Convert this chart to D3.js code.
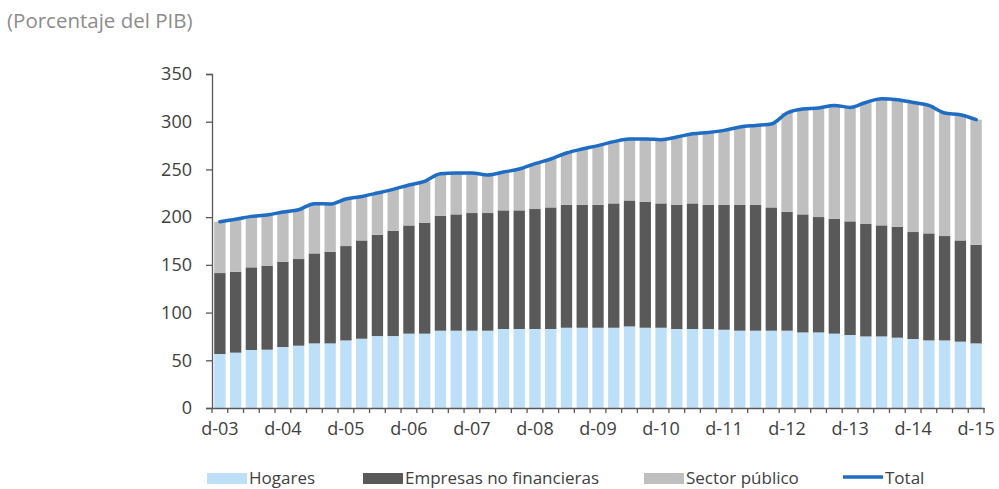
<!DOCTYPE html>
<html>
<head>
<meta charset="utf-8">
<script src="https://cdn.jsdelivr.net/npm/d3@7"></script>
<style>
  body { margin: 0; background: #fff; }
  svg text { font-family: "Open Sans", sans-serif; }
</style>
</head>
<body>
<div id="chart"></div>
<script>
// quarterly categories (d = dic, m = mar, j = jun, s = sep)
let quarters = ['d-03',
  'm-04', 'j-04', 's-04', 'd-04', 'm-05', 'j-05', 's-05', 'd-05',
  'm-06', 'j-06', 's-06', 'd-06', 'm-07', 'j-07', 's-07', 'd-07',
  'm-08', 'j-08', 's-08', 'd-08', 'm-09', 'j-09', 's-09', 'd-09',
  'm-10', 'j-10', 's-10', 'd-10', 'm-11', 'j-11', 's-11', 'd-11',
  'm-12', 'j-12', 's-12', 'd-12', 'm-13', 'j-13', 's-13', 'd-13',
  'm-14', 'j-14', 's-14', 'd-14', 'm-15', 'j-15', 's-15', 'd-15'];
let tickLabels = ['d-03', 'd-04', 'd-05', 'd-06', 'd-07', 'd-08', 'd-09', 'd-10', 'd-11', 'd-12', 'd-13', 'd-14', 'd-15'];
let yTicks = [0, 50, 100, 150, 200, 250, 300, 350];

let seriesNames = ['Hogares', 'Empresas no financieras', 'Sector público'];
let hogares = [56.6, 58, 60.8, 61.1, 63.9, 65.3, 67.7, 67.7, 70.8, 72.6, 75.4, 75.4, 77.9, 77.9,
  81, 81, 81, 81, 82.8, 82.8, 82.8, 82.8, 84.1, 84.1, 84.1, 84.1, 85.5, 84.1, 84.1, 82.8, 82.8,
  82.8, 82, 81, 81, 81, 81, 79.2, 79.2, 77.9, 76.5, 75, 75, 73.7, 72.3, 70.8, 70.8, 69.5, 67.7];
let empresas = [84.8, 84.8, 86.6, 87.7, 89.4, 90.8, 94.3, 96.1, 98.9, 103, 106.2, 110.4, 113.4, 116.3,
  120.5, 121.9, 123.3, 123.3, 124.3, 124.3, 125.7, 127.4, 128.9, 128.9, 128.9, 130.3, 132, 132.1, 130.3, 130.2, 131.6,
  130.2, 131, 132, 132, 129.2, 124.7, 123.7, 120.9, 120.5, 119.1, 117.8, 116.4, 116.3, 112.1, 112.2, 109.4, 106.1, 103.4];
let sectorPublico = [53.8, 54.9, 53.4, 53.4, 52.1, 51.7, 52.1, 50, 49.3, 46.1, 43.7, 43.3, 42.4, 43.3,
  44, 43.3, 41.9, 39.9, 40.2, 43.3, 47.5, 50.7, 54.2, 58.4, 61.9, 64.7, 64.4, 65.7, 66.8, 71, 73,
  75.8, 77.9, 81.4, 83.1, 87.4, 103.4, 110.4, 114.3, 118.7, 119.4, 127.4, 132.7, 133.1, 135.8, 134.1, 128.9, 131.7, 131];
let total = [195.2, 197.7, 200.8, 202.2, 205.4, 207.8, 214.1, 213.8, 219, 221.7, 225.3, 229.1, 233.7, 237.5,
  245.5, 246.2, 246.2, 244.2, 247.3, 250.4, 256, 260.9, 267.2, 271.4, 274.9, 279.1, 281.9, 281.9, 281.2, 284, 287.4,
  288.8, 290.9, 294.4, 296.1, 297.6, 309.1, 313.3, 314.4, 317.1, 315, 320.2, 324.1, 323.1, 320.2, 317.1, 309.1, 307.3, 302.1];

let colors = ['#bde0f8', '#595959', '#bfbfbf'];
let lineColor = '#1f6cc4';

//dimensions
let w = 999;
let h = 489;
let plotLeft = 212, plotRight = 984, plotTop = 74, plotBottom = 408;

let svg = d3.select('#chart').
append('svg').
attr('width', w).
attr('height', h);

// subtitle
svg.append('text').
attr('x', 7).
attr('y', 28).
attr('fill', '#8c8c8c').
style('font-size', '20.5px').
text('(Porcentaje del PIB)');

let table = quarters.map((q, i) => ({
  q: q,
  'Hogares': hogares[i],
  'Empresas no financieras': empresas[i],
  'Sector público': sectorPublico[i],
  total: total[i]
}));

let xScale = d3.scaleBand().
domain(quarters).
range([plotLeft, plotRight]).
paddingInner(0.28).
paddingOuter(0.14);

let xEdge = d3.scaleBand().
domain(quarters).
range([plotLeft, plotRight]);

let yScale = d3.scaleLinear().
domain([0, 350]).
range([plotBottom, plotTop]);

let stack = d3.stack().keys(seriesNames)(table);

svg.append('g').
selectAll('g').
data(stack).
enter().
append('g').
attr('fill', (d, i) => colors[i]).
selectAll('rect').
data(d => d).
enter().
append('rect').
attr('x', d => xScale(d.data.q)).
attr('width', xScale.bandwidth()).
attr('y', d => yScale(d[1])).
attr('height', d => yScale(d[0]) - yScale(d[1]));

//Total line
let line = d3.line().
x(d => xEdge(d.q) + xEdge.bandwidth() / 2).
y(d => yScale(d.total)).
curve(d3.curveMonotoneX);

svg.append('path').
datum(table).
attr('d', line).
attr('fill', 'none').
attr('stroke', lineColor).
attr('stroke-width', 3.5).
attr('stroke-linejoin', 'round').
attr('stroke-linecap', 'round');

//Y axis
let yAxis = d3.axisLeft(yScale).tickValues(yTicks).tickSize(6).tickPadding(14);
let gy = svg.append('g').
attr('transform', 'translate(' + plotLeft + ',0)').
call(yAxis);
gy.select('.domain').attr('stroke', '#595959').attr('stroke-width', 1.3);
gy.selectAll('.tick line').attr('stroke', '#595959').attr('stroke-width', 1.3);
gy.selectAll('.tick text').attr('fill', '#404040').style('font-size', '18px').style('font-family', '"Open Sans", sans-serif');

//X axis: labels every 4th quarter, tick marks at the band edges
let xAxis = d3.axisBottom(xEdge).tickValues(tickLabels).tickSize(0).tickPadding(14);
let gx = svg.append('g').
attr('transform', 'translate(0,' + plotBottom + ')').
call(xAxis);
gx.select('.domain').attr('stroke', '#595959').attr('stroke-width', 1.3);
gx.selectAll('.tick text').attr('fill', '#404040').style('font-size', '18px').style('font-family', '"Open Sans", sans-serif');

let edges = quarters.map(q => xEdge(q)).concat([plotRight]);
gx.selectAll('.qtick').
data(edges).
enter().
append('line').
attr('class', 'qtick').
attr('x1', d => d).
attr('x2', d => d).
attr('y1', 0).
attr('y2', 5).
attr('stroke', '#595959').
attr('stroke-width', 1.3);

//Legend
let legendItems = [
  { name: 'Hogares', color: colors[0], type: 'rect', x: 207 },
  { name: 'Empresas no financieras', color: colors[1], type: 'rect', x: 363 },
  { name: 'Sector público', color: colors[2], type: 'rect', x: 644 },
  { name: 'Total', color: lineColor, type: 'line', x: 843 }];

let legend = svg.append('g').attr('transform', 'translate(0,478)');
let li = legend.selectAll('g').
data(legendItems).
enter().
append('g').
attr('transform', d => 'translate(' + d.x + ',0)');

li.filter(d => d.type === 'rect').
append('rect').
attr('x', 0).
attr('y', -5).
attr('width', 40).
attr('height', 11).
attr('fill', d => d.color);

li.filter(d => d.type === 'line').
append('line').
attr('x1', 0).
attr('x2', 40).
attr('y1', -1).
attr('y2', -1).
attr('stroke', d => d.color).
attr('stroke-width', 3.5);

li.append('text').
attr('x', 42).
attr('y', 0).
attr('dy', '0.35em').
attr('fill', '#404040').
style('font-size', '17px').
text(d => d.name);
</script>
</body>
</html>
